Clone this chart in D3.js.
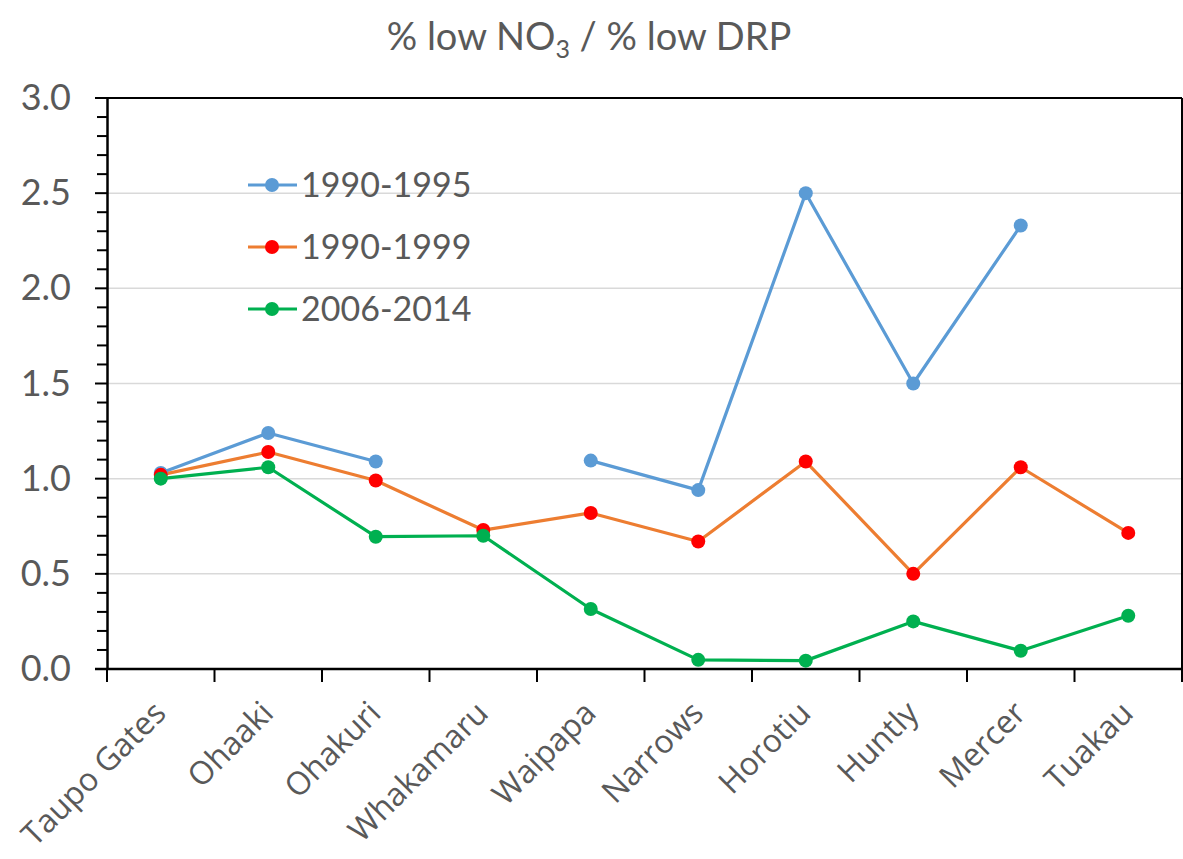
<!DOCTYPE html>
<html>
<head>
<meta charset="utf-8">
<script src="https://cdn.jsdelivr.net/npm/d3@7"></script>
<style>
  html, body { margin: 0; padding: 0; background: #fff; }
  svg text { fill: #595959; }
</style>
</head>
<body>
<svg id="chart" width="1183" height="859"></svg>
<script>
// Sites along the river, upstream to downstream
const sites = ["Taupo Gates", "Ohaaki", "Ohakuri", "Whakamaru", "Waipapa",
               "Narrows", "Horotiu", "Huntly", "Mercer", "Tuakau"];

// Ratio of % low NO3 to % low DRP per period (null = no data)
const ratio1990_1995 = [1.03, 1.24, 1.09, null, 1.095, 0.94, 2.50, 1.50, 2.33, null];
const ratio1990_1999 = [1.02, 1.14, 0.99, 0.73, 0.82, 0.67, 1.09, 0.50, 1.06, 0.715];
const ratio2006_2014 = [1.00, 1.06, 0.695, 0.70, 0.315, 0.048, 0.044, 0.25, 0.096, 0.28];

const seriesNames = ["1990-1995", "1990-1999", "2006-2014"];
const yTicks = [0.0, 0.5, 1.0, 1.5, 2.0, 2.5, 3.0];

const series = [
  { name: seriesNames[0], values: ratio1990_1995, line: "#5B9BD5", marker: "#5B9BD5" },
  { name: seriesNames[1], values: ratio1990_1999, line: "#ED7D31", marker: "#FF0000" },
  { name: seriesNames[2], values: ratio2006_2014, line: "#00B050", marker: "#00B050" }
];

const svg = d3.select("#chart");
const plotLeft = 107, plotRight = 1182, plotTop = 98, plotBottom = 669;

const x = d3.scaleBand().domain(sites).range([plotLeft, plotRight]).padding(0);
const y = d3.scaleLinear().domain([0, 3]).range([plotBottom, plotTop]);

// Title with subscript
const title = svg.append("text")
  .attr("x", 589).attr("y", 50)
  .attr("text-anchor", "middle")
  .style("font-family", "Lato, 'Open Sans', sans-serif")
  .style("font-size", "38px");
title.append("tspan").text("% low NO");
title.append("tspan").attr("dy", 8).style("font-size", "25px").text("3");
title.append("tspan").attr("dy", -8).text(" / % low DRP");

// Horizontal gridlines
svg.append("g")
  .selectAll("line")
  .data(yTicks.filter(d => d > 0 && d < 3))
  .join("line")
  .attr("x1", plotLeft).attr("x2", plotRight)
  .attr("y1", d => y(d)).attr("y2", d => y(d))
  .attr("stroke", "#D9D9D9").attr("stroke-width", 1.5);

// Plot frame (top and right)
svg.append("line").attr("x1", plotLeft).attr("x2", plotRight).attr("y1", plotTop).attr("y2", plotTop)
  .attr("stroke", "#000").attr("stroke-width", 2);
svg.append("line").attr("x1", plotRight).attr("x2", plotRight).attr("y1", plotTop).attr("y2", plotBottom + 13)
  .attr("stroke", "#000").attr("stroke-width", 2);

// Y axis: minor ticks every 0.1
const minor = d3.range(0, 31).map(i => i / 10);
svg.append("g")
  .selectAll("line")
  .data(minor)
  .join("line")
  .attr("x1", d => (Math.round(d * 10) % 5 === 0) ? plotLeft - 12 : plotLeft - 10)
  .attr("x2", plotLeft)
  .attr("y1", d => y(d)).attr("y2", d => y(d))
  .attr("stroke", "#000").attr("stroke-width", 2);

const yAxis = d3.axisLeft(y).tickValues(yTicks).tickFormat(d3.format(".1f")).tickSize(0).tickPadding(36);
const gy = svg.append("g").attr("transform", `translate(${plotLeft},0)`).call(yAxis);
gy.select(".domain").attr("stroke", "#000").attr("stroke-width", 2.5);
gy.selectAll("text")
  .style("font-family", "Lato, 'Open Sans', sans-serif")
  .style("font-size", "36px")
  .attr("fill", "#595959");

// X axis: ticks at band edges
const edges = sites.map(s => x(s)).concat([plotRight]);
svg.append("g")
  .selectAll("line")
  .data(edges)
  .join("line")
  .attr("x1", d => d).attr("x2", d => d)
  .attr("y1", plotBottom).attr("y2", plotBottom + 13)
  .attr("stroke", "#000").attr("stroke-width", 2);
svg.append("line").attr("x1", plotLeft - 12).attr("x2", plotRight).attr("y1", plotBottom).attr("y2", plotBottom)
  .attr("stroke", "#000").attr("stroke-width", 2.5);

svg.append("g")
  .selectAll("text")
  .data(sites)
  .join("text")
  .attr("transform", d => `translate(${x(d) + x.bandwidth() / 2 + 7},${plotBottom + 46}) rotate(-45)`)
  .attr("text-anchor", "end")
  .style("font-family", "'Open Sans', sans-serif")
  .style("font-size", "32px")
  .text(d => d);

// Lines and markers
const cx = d => x(d) + x.bandwidth() / 2;
series.forEach(s => {
  const pts = sites.map((site, i) => ({ site, v: s.values[i] }));
  const line = d3.line()
    .defined(p => p.v !== null)
    .x(p => cx(p.site)).y(p => y(p.v));
  svg.append("path").datum(pts)
    .attr("d", line)
    .attr("fill", "none").attr("stroke", s.line).attr("stroke-width", 3.2)
    .attr("stroke-linejoin", "round");
  s.pts = pts;
});
series.forEach(s => {
  svg.append("g").selectAll("circle")
    .data(s.pts.filter(p => p.v !== null))
    .join("circle")
    .attr("cx", p => cx(p.site)).attr("cy", p => y(p.v))
    .attr("r", 7).attr("fill", s.marker);
});

// Legend
const legend = svg.append("g");
series.forEach((s, i) => {
  const ly = 185 + i * 62;
  legend.append("line").attr("x1", 248).attr("x2", 297).attr("y1", ly).attr("y2", ly)
    .attr("stroke", s.line).attr("stroke-width", 3.2);
  legend.append("circle").attr("cx", 272).attr("cy", ly).attr("r", 7).attr("fill", s.marker);
  legend.append("text").attr("x", 301).attr("y", ly).attr("dy", "0.36em")
    .style("font-family", "Lato, 'Open Sans', sans-serif")
    .style("font-size", "34px")
    .text(s.name);
});
</script>
</body>
</html>
